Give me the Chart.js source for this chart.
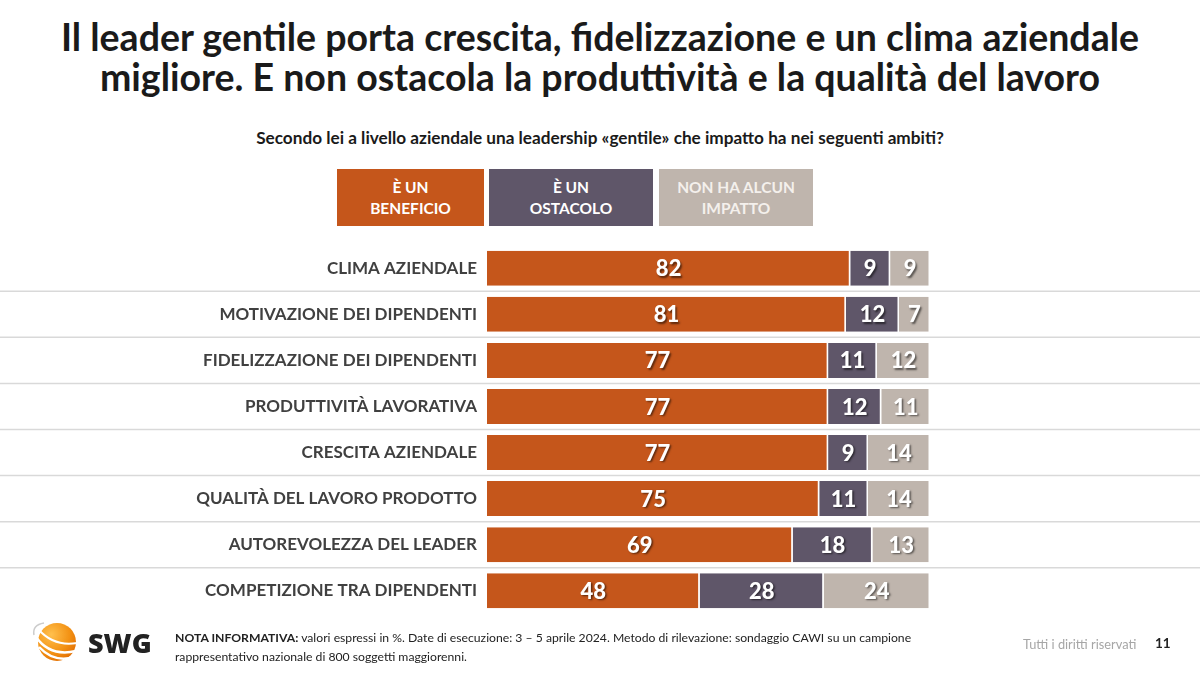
<!DOCTYPE html>
<html lang="it">
<head>
<meta charset="utf-8">
<title>Leader gentile</title>
<script src="https://cdn.jsdelivr.net/npm/chart.js@4/dist/chart.umd.min.js"></script>
<style>
	html, body { margin: 0; padding: 0; background: #fff; }
	body { width: 1200px; height: 675px; position: relative; overflow: hidden; font-family: Lato, "Open Sans", sans-serif; }
	#title { position: absolute; left: 0; top: 17px; width: 1200px; text-align: center; font-size: 37.5px; font-weight: 700; line-height: 40px; color: #1a1a1a; }
	#subtitle { position: absolute; left: 0; top: 127px; width: 1200px; text-align: center; font-size: 17.2px; font-weight: 700; color: #1a1a1a; }
	.leg { position: absolute; top: 169px; height: 57px; display: flex; align-items: center; justify-content: center; text-align: center; font-size: 15.5px; font-weight: 700; line-height: 21px; color: #fff; }
	#wrap { position: absolute; left: 0; top: 225px; width: 1200px; height: 409px; }
	#logo { position: absolute; left: 30px; top: 617px; }
	#swg { position: absolute; left: 88px; top: 624px; font-family: "Open Sans", sans-serif; font-size: 27px; font-weight: 800; color: #222; }
	#note { position: absolute; left: 175px; top: 628px; font-size: 12.2px; line-height: 19px; color: #222; }
	#rights { position: absolute; left: 1023px; top: 636px; font-size: 12.8px; color: #a6a6a6; }
	#page { position: absolute; left: 1155px; top: 635px; font-size: 13.5px; font-weight: 700; color: #222; }
</style>
</head>
<body>
<div id="title">Il leader gentile porta crescita, fidelizzazione e un clima aziendale<br>migliore. E non ostacola la produttività e la qualità del lavoro</div>
<div id="subtitle">Secondo lei a livello aziendale una leadership «gentile» che impatto ha nei seguenti ambiti?</div>
<div id="legend"></div>
<div id="wrap"><canvas id="chart"></canvas></div>
<svg id="logo" width="52" height="52" viewBox="0 0 52 52">
	<defs>
		<radialGradient id="g" cx="0.35" cy="0.3" r="0.8">
			<stop offset="0" stop-color="#ffc04d"/>
			<stop offset="0.6" stop-color="#f39214"/>
			<stop offset="1" stop-color="#e06a00"/>
		</radialGradient>
	</defs>
	<circle cx="27" cy="25" r="19" fill="url(#g)"/>
	<path d="M6 20 Q20 40 46 34" stroke="#fff" stroke-width="2.5" fill="none"/>
	<path d="M9 30 Q24 46 44 40" stroke="#fff" stroke-width="2.5" fill="none"/>
	<path d="M8 12 Q24 30 47 26" stroke="#fff" stroke-width="2" fill="none"/>
	<path d="M4 18 Q2 8 14 6" stroke="#ccc" stroke-width="1.5" fill="none"/>
</svg>
<div id="swg">SWG</div>
<div id="note"><b>NOTA INFORMATIVA:</b> valori espressi in %. Date di esecuzione: 3 – 5 aprile 2024. Metodo di rilevazione: sondaggio CAWI su un campione<br>rappresentativo nazionale di 800 soggetti maggiorenni.</div>
<div id="rights">Tutti i diritti riservati</div>
<div id="page">11</div>

<script>
const categories = [
	"CLIMA AZIENDALE",
	"MOTIVAZIONE DEI DIPENDENTI",
	"FIDELIZZAZIONE DEI DIPENDENTI",
	"PRODUTTIVITÀ LAVORATIVA",
	"CRESCITA AZIENDALE",
	"QUALITÀ DEL LAVORO PRODOTTO",
	"AUTOREVOLEZZA DEL LEADER",
	"COMPETIZIONE TRA DIPENDENTI"
];

const seriesNames = ["È UN<br>BENEFICIO", "È UN<br>OSTACOLO", "NON HA ALCUN<br>IMPATTO"];
const beneficio = [82, 81, 77, 77, 77, 75, 69, 48];
const ostacolo = [9, 12, 11, 12, 9, 11, 18, 28];
const nessunImpatto = [9, 7, 12, 11, 14, 14, 13, 24];

const colors = ["#c5561b", "#5f5669", "#bfb5ad"];
const legendText = ["#ffffff", "#ffffff", "#f4f0ec"];
const legendBoxes = [[337, 147], [489, 164], [659, 154]];

// legenda a riquadri
const legend = document.querySelector("#legend");
seriesNames.forEach((name, i) => {
	const div = document.createElement("div");
	div.className = "leg";
	div.style.left = legendBoxes[i][0] + "px";
	div.style.width = legendBoxes[i][1] + "px";
	div.style.background = colors[i];
	div.style.color = legendText[i];
	div.innerHTML = name;
	legend.appendChild(div);
});

// linee di separazione tra le righe, su tutta la larghezza
const rowLines = {
	id: 'rowLines',
	beforeDatasetsDraw(chart) {
		const ctx = chart.ctx;
		const y = chart.scales.y;
		ctx.save();
		ctx.strokeStyle = "#d9d9d9";
		ctx.lineWidth = 1.5;
		for (let i = 0; i < categories.length - 1; i++) {
			const pos = (y.getPixelForValue(i) + y.getPixelForValue(i + 1)) / 2;
			ctx.beginPath();
			ctx.moveTo(0, pos);
			ctx.lineTo(chart.width, pos);
			ctx.stroke();
		}
		ctx.restore();
	}
};

// valori al centro dei segmenti
const valueLabels = {
	id: 'valueLabels',
	afterDatasetsDraw(chart) {
		const ctx = chart.ctx;
		ctx.save();
		ctx.font = "900 22px Lato, 'Open Sans', sans-serif";
		ctx.textAlign = "center";
		ctx.textBaseline = "middle";
		ctx.fillStyle = "#ffffff";
		ctx.shadowColor = "rgba(0, 0, 0, 0.55)";
		ctx.shadowOffsetX = 1.5;
		ctx.shadowOffsetY = 1.5;
		ctx.shadowBlur = 2;
		chart.data.datasets.forEach((ds, di) => {
			const meta = chart.getDatasetMeta(di);
			meta.data.forEach((bar, i) => {
				const x = (bar.x + bar.base) / 2;
				ctx.fillText(ds.data[i], x, bar.y + 1);
			});
		});
		ctx.restore();
	}
};

new Chart(document.querySelector("#chart"), {
	type: 'bar',
	data: {
		labels: categories,
		datasets: [
			{ label: "È un beneficio", data: beneficio, backgroundColor: colors[0] },
			{ label: "È un ostacolo", data: ostacolo, backgroundColor: colors[1] },
			{ label: "Non ha alcun impatto", data: nessunImpatto, backgroundColor: colors[2] }
		].map(ds => Object.assign(ds, {
			borderColor: "#ffffff",
			borderWidth: { left: 0, right: 1.5, top: 0, bottom: 0 },
			borderSkipped: false,
			barPercentage: 0.76,
			categoryPercentage: 1
		}))
	},
	options: {
		indexAxis: 'y',
		responsive: true,
		maintainAspectRatio: false,
		animation: false,
		layout: {
			padding: { left: 0, right: 270, top: 8, bottom: 14 }
		},
		plugins: {
			legend: { display: false },
			tooltip: { enabled: false }
		},
		scales: {
			x: {
				stacked: true,
				min: 0,
				max: 100,
				display: false
			},
			y: {
				stacked: true,
				grid: { display: false, drawTicks: false },
				border: { display: false },
				ticks: {
					color: "#404040",
					padding: 10,
					font: { family: "Lato, 'Open Sans', sans-serif", size: 17, weight: '700' }
				},
				afterFit(scale) {
					scale.width = 487;
				}
			}
		}
	},
	plugins: [rowLines, valueLabels]
});
</script>
</body>
</html>
